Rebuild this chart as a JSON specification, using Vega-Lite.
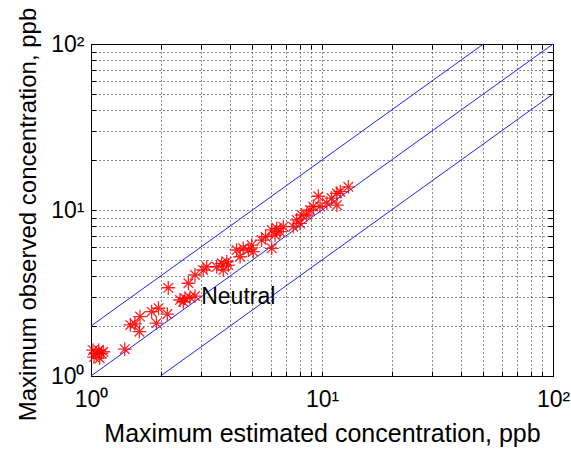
{
  "$schema": "https://vega.github.io/schema/vega-lite/v6.json",
  "width": 462,
  "height": 332,
  "autosize": {"type": "none"},
  "padding": {"left": 91, "top": 44, "right": 18, "bottom": 73},
  "background": "white",
  "config": {
    "view": {"stroke": "#000", "strokeWidth": 1},
    "font": "Liberation Sans",
    "axis": {
      "values": [1, 2, 3, 4, 5, 6, 7, 8, 9, 10, 20, 30, 40, 50, 60, 70, 80, 90, 100],
      "labelExpr": "datum.value == 1 ? '10⁰' : datum.value == 10 ? '10¹' : datum.value == 100 ? '10²' : ''",
      "labelOverlap": false,
      "labelFlush": false,
      "labelFont": "Liberation Sans",
      "labelFontSize": 23,
      "labelColor": "#000",
      "titleFont": "Liberation Sans",
      "titleFontSize": 25,
      "titleFontWeight": "normal",
      "titleColor": "#000",
      "grid": true,
      "gridDash": [1, 3],
      "gridColor": "#000",
      "gridOpacity": 0.9,
      "domainColor": "#000",
      "tickColor": "#000",
      "tickSize": -5
    }
  },
  "datasets": {
    "obs": [
      {"est": 1.02, "obs": 1.43}, {"est": 1.08, "obs": 1.43}, {"est": 1.05, "obs": 1.37},
      {"est": 1.11, "obs": 1.37}, {"est": 1.03, "obs": 1.3}, {"est": 1.09, "obs": 1.28},
      {"est": 1.13, "obs": 1.4}, {"est": 1.4, "obs": 1.45},
      {"est": 1.48, "obs": 2.03}, {"est": 1.55, "obs": 2.06}, {"est": 1.63, "obs": 2.28},
      {"est": 1.62, "obs": 1.85}, {"est": 1.83, "obs": 2.44}, {"est": 1.96, "obs": 2.56},
      {"est": 1.92, "obs": 2.08}, {"est": 2.14, "obs": 2.36}, {"est": 2.16, "obs": 3.4},
      {"est": 2.43, "obs": 2.87}, {"est": 2.55, "obs": 2.94}, {"est": 2.68, "obs": 2.98},
      {"est": 2.82, "obs": 3.03}, {"est": 2.51, "obs": 2.8},
      {"est": 2.64, "obs": 3.62}, {"est": 2.82, "obs": 4.06}, {"est": 3.06, "obs": 4.35},
      {"est": 3.17, "obs": 4.55}, {"est": 3.5, "obs": 4.55}, {"est": 3.68, "obs": 4.77},
      {"est": 3.74, "obs": 4.35}, {"est": 3.93, "obs": 4.66}, {"est": 3.87, "obs": 4.88},
      {"est": 4.27, "obs": 5.74}, {"est": 4.56, "obs": 5.88}, {"est": 4.8, "obs": 5.74},
      {"est": 4.96, "obs": 6.15}, {"est": 4.42, "obs": 5.23}, {"est": 5.04, "obs": 5.61},
      {"est": 5.48, "obs": 6.59}, {"est": 5.7, "obs": 6.9}, {"est": 6.06, "obs": 7.58},
      {"est": 6.37, "obs": 7.76}, {"est": 6.58, "obs": 7.4}, {"est": 6.26, "obs": 7.07},
      {"est": 6.8, "obs": 7.93}, {"est": 6.06, "obs": 5.88}, {"est": 7.51, "obs": 7.93},
      {"est": 7.77, "obs": 8.71}, {"est": 8.17, "obs": 9.33}, {"est": 8.03, "obs": 8.31},
      {"est": 8.59, "obs": 9.33}, {"est": 8.87, "obs": 10.0}, {"est": 9.17, "obs": 10.5},
      {"est": 9.64, "obs": 12.1}, {"est": 9.8, "obs": 10.5}, {"est": 10.5, "obs": 11.0},
      {"est": 11.0, "obs": 11.8}, {"est": 11.6, "obs": 12.6}, {"est": 13.0, "obs": 13.8},
      {"est": 11.6, "obs": 10.7}, {"est": 12.0, "obs": 12.9}
    ],
    "lines": [
      {"ratio": "2x", "est": 1, "obs": 2}, {"ratio": "2x", "est": 50, "obs": 100},
      {"ratio": "1x", "est": 1, "obs": 1}, {"ratio": "1x", "est": 100, "obs": 100},
      {"ratio": "0.5x", "est": 2, "obs": 1}, {"ratio": "0.5x", "est": 100, "obs": 50}
    ],
    "label": [{"est": 3.0, "obs": 3.0, "text": "Neutral"}]
  },
  "layer": [
    {
      "data": {"name": "lines"},
      "mark": {"type": "line", "color": "#2020ff", "strokeWidth": 1},
      "encoding": {
        "x": {"field": "est", "type": "quantitative", "scale": {"type": "log", "domain": [1, 100], "nice": false},
              "axis": {"orient": "bottom", "title": "Maximum estimated concentration, ppb", "titleX": 231, "titleY": 65, "titleBaseline": "alphabetic", "labelPadding": 17}},
        "y": {"field": "obs", "type": "quantitative", "scale": {"type": "log", "domain": [1, 100], "nice": false},
              "axis": {"orient": "left", "title": "Maximum observed concentration, ppb", "titleFontSize": 24, "titleX": -56, "titleY": 170, "titleAngle": -90, "titleAlign": "center", "titleBaseline": "alphabetic", "labelPadding": 12}},
        "detail": {"field": "ratio"}
      }
    },
    {
      "data": {"name": "obs"},
      "mark": {"type": "point", "shape": "M-1,0H1M0,-1V1M-0.7,-0.7L0.7,0.7M-0.7,0.7L0.7,-0.7", "filled": false, "color": "#ff0000", "strokeWidth": 1.3, "size": 190, "opacity": 0.85},
      "encoding": {
        "x": {"field": "est", "type": "quantitative", "axis": {"orient": "top", "title": null, "labels": false, "grid": false}},
        "y": {"field": "obs", "type": "quantitative", "axis": {"orient": "right", "title": null, "labels": false, "grid": false}}
      }
    },
    {
      "data": {"name": "label"},
      "mark": {"type": "text", "align": "left", "baseline": "middle", "font": "Liberation Sans", "fontSize": 23, "color": "#000"},
      "encoding": {
        "x": {"field": "est", "type": "quantitative", "axis": null},
        "y": {"field": "obs", "type": "quantitative", "axis": null},
        "text": {"field": "text"}
      }
    }
  ],
  "resolve": {"axis": {"x": "independent", "y": "independent"}}
}
